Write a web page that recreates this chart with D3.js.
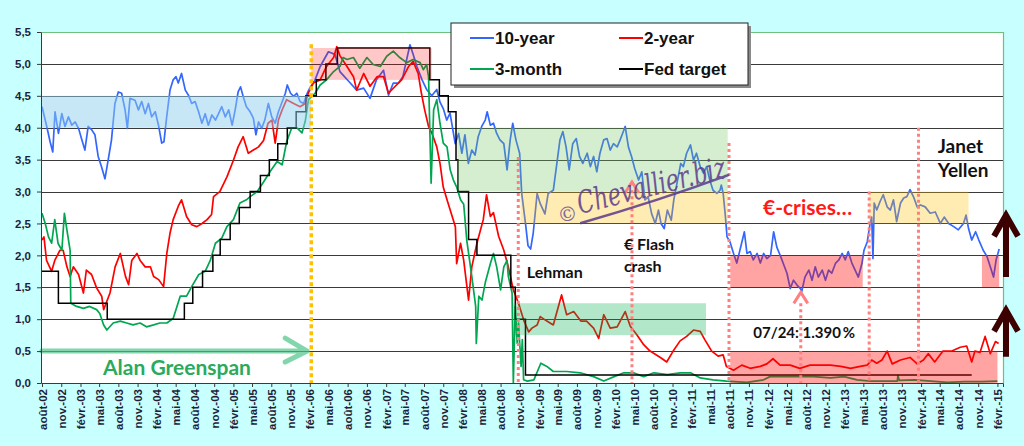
<!DOCTYPE html>
<html>
<head>
<meta charset="utf-8">
<script src="https://cdn.jsdelivr.net/npm/d3@7"></script>
<style>
  html, body { margin: 0; padding: 0; background: #c8ffff; }
  svg { display: block; }
  .axis text { font-family: 'Liberation Sans', Arial, sans-serif; font-weight: bold; font-size: 11.5px; fill: #1f1f3a; }
  .axis path, .axis line { stroke: #3a3a3a; }
  .note { font-family: Lato, 'Open Sans', sans-serif; font-weight: bold; }
</style>
</head>
<body>
<script>
// values: [months after août-02, yield %]
const tenYear = [[0,4.33],[0.73,4.02],[1.26,3.78],[1.68,3.62],[2.04,4.25],[2.57,3.91],[3.09,4.22],[3.6,4.02],[4.14,4.17],[4.66,4.04],[5.18,4.09],[5.7,3.99],[6.23,3.81],[6.75,3.65],[7.28,4.02],[7.8,3.97],[8.33,3.89],[8.85,3.55],[9.37,3.39],[9.9,3.2],[10.4,3.49],[10.94,3.81],[11.47,4.38],[11.99,4.56],[12.5,4.54],[13.04,4.28],[13.4,3.99],[13.82,4.46],[14.6,4.43],[15.13,4.28],[15.65,4.41],[16.2,4.22],[16.7,4.38],[17.2,4.17],[17.75,4.25],[18.27,4.04],[18.8,3.76],[19.16,3.78],[19.58,4.17],[20.1,4.59],[20.6,4.75],[21.05,4.8],[21.4,4.7],[21.9,4.85],[22.5,4.59],[23,4.51],[23.5,4.38],[24.03,4.41],[24.56,4.25],[25.08,4.07],[25.6,4.22],[26.1,4.04],[26.65,4.2],[27.2,4.12],[27.7,4.22],[28.2,4.33],[28.75,4.17],[29.27,4.28],[29.8,4.04],[30.3,4.28],[30.8,4.56],[31.2,4.64],[31.6,4.49],[32.1,4.33],[32.7,4.25],[33.2,4.15],[33.6,3.89],[34,4.09],[34.5,3.99],[35,4.12],[35.55,4.38],[36.07,4.17],[36.6,4.07],[37.1,4.25],[37.6,4.38],[38.2,4.54],[38.5,4.67],[39,4.54],[39.5,4.49],[40,4.54],[40.5,4.41],[41.05,4.38],[41.6,4.54],[42.1,4.64],[42.9,4.75],[43.7,4.96],[45,5.19],[46,5.15],[46.8,4.88],[48.4,4.7],[49.4,4.59],[50.5,4.62],[51.5,4.46],[52.5,4.75],[53.6,4.9],[54.4,4.51],[55.2,4.7],[56,4.7],[56.7,4.8],[57.8,5.3],[58.3,5.15],[58.9,4.96],[59.7,4.75],[60.4,4.6],[61.2,4.5],[62,4.6],[62.5,4.4],[63,4.3],[63.55,4.12],[64.08,4.23],[64.87,3.75],[65.4,3.91],[65.9,3.6],[66.4,3.89],[66.96,3.44],[67.5,3.65],[68,3.57],[68.5,3.86],[69.06,4.02],[69.6,4.12],[69.9,4.25],[70.4,4.04],[70.9,4.07],[71.4,3.91],[71.9,3.81],[72.5,3.75],[73,3.34],[73.5,3.81],[73.9,4.07],[74.4,3.81],[74.97,3.6],[75.3,2.97],[75.9,2.5],[76.3,2.15],[76.7,2.1],[77.1,2.35],[77.7,2.97],[78.2,2.81],[79,2.65],[79.5,2.97],[80.3,3.02],[80.8,3.39],[81.35,3.81],[81.8,3.94],[82.3,3.7],[82.8,3.34],[83.35,3.75],[83.9,3.83],[84.4,3.55],[84.9,3.44],[85.6,3.6],[86.1,3.39],[86.6,3.55],[87.1,3.31],[87.6,3.6],[88.2,3.81],[88.7,3.83],[89.2,3.65],[89.7,3.75],[90.3,3.7],[90.8,3.81],[91.2,3.91],[91.6,4.02],[92.1,3.7],[92.6,3.55],[93.1,3.36],[93.7,3.18],[94.2,3.31],[94.7,2.87],[95.2,2.92],[95.75,2.65],[96.3,2.5],[96.8,2.71],[97.2,2.5],[97.7,2.42],[98.2,2.71],[98.8,2.55],[99.2,2.87],[99.8,3.18],[100.3,3.44],[100.7,3.39],[101.2,3.6],[101.8,3.73],[102.3,3.49],[102.8,3.6],[103.4,3.39],[103.9,3.29],[104.4,3.39],[104.9,3.18],[105.4,3.02],[106,2.97],[106.5,3.02],[106.7,3.1],[107,2.97],[107.3,2.66],[107.6,2.29],[108.06,2.21],[108.6,2.03],[109.1,1.88],[109.6,2.08],[110.3,2.37],[110.7,2.03],[111.2,2.06],[111.7,1.93],[112.3,2.03],[112.8,1.88],[113.3,2.03],[113.8,1.95],[114.4,2.0],[114.9,2.37],[115.4,2.13],[116,1.98],[116.5,1.85],[117,1.72],[117.5,1.48],[118,1.61],[118.6,1.53],[119.1,1.48],[119.3,1.43],[119.8,1.66],[120.4,1.77],[120.9,1.61],[121.4,1.82],[121.9,1.66],[122.5,1.77],[123,1.61],[123.5,1.77],[124,1.72],[124.6,1.88],[125.1,1.93],[125.6,2.03],[126.1,1.93],[126.6,2.06],[127.2,1.88],[127.7,1.77],[128.2,1.66],[128.8,1.88],[129.1,2.08],[129.6,2.21],[130.05,2.5],[130.3,2.6],[130.5,1.95],[130.7,2.82],[131.1,2.71],[131.6,2.84],[132.1,2.95],[132.7,2.76],[133.2,2.71],[133.7,2.87],[134.2,2.53],[134.8,2.82],[135.3,2.9],[135.8,2.92],[136.3,3.03],[136.9,2.9],[137.4,2.76],[137.9,2.79],[138.7,2.76],[139.5,2.66],[140.3,2.68],[141.1,2.5],[141.7,2.6],[142.4,2.5],[143.2,2.45],[143.9,2.4],[144.7,2.5],[145.1,2.63],[145.5,2.42],[146,2.24],[146.6,2.37],[147.1,2.24],[147.8,2.08],[148.4,1.98],[148.9,1.82],[149.4,1.66],[149.8,1.93],[150.3,2.1]];

const twoYear = [[0,2.24],[0.3,2.29],[0.7,1.92],[1.5,1.75],[2,1.92],[2.8,2.08],[3.3,2.08],[3.9,1.82],[4.4,1.67],[4.9,1.82],[5.7,1.7],[6.5,1.41],[7,1.77],[7.8,1.7],[8.6,1.49],[9.4,1.36],[9.7,1.15],[10.7,1.41],[11.5,1.82],[12.3,2.03],[13.1,1.67],[13.6,1.54],[14.1,1.92],[14.9,2.03],[15.4,1.92],[16.2,1.82],[17,1.82],[17.5,1.67],[18.3,1.62],[19.1,1.51],[19.6,2.03],[20.1,2.35],[20.6,2.56],[21.4,2.77],[21.9,2.87],[22.7,2.61],[23.5,2.48],[24.3,2.45],[25.1,2.5],[25.9,2.56],[26.6,2.64],[26.9,2.92],[27.9,3.0],[29,3.23],[30,3.49],[30.8,3.7],[31.6,3.86],[32.4,3.6],[33.2,3.65],[34,3.7],[34.8,3.8],[35.5,4.07],[36.1,4.12],[36.6,3.76],[37.1,4.12],[37.7,4.28],[38.4,4.44],[39.5,4.38],[40.5,4.33],[41.3,4.38],[41.8,4.55],[42.6,4.7],[43.7,4.75],[44.7,4.96],[45.8,5.1],[46.3,5.27],[46.8,5.13],[47.9,4.96],[48.9,4.8],[49.4,4.59],[50.5,4.85],[51.5,4.65],[52.6,4.8],[53.6,4.8],[54.4,4.54],[55.5,4.65],[56.5,4.75],[57.6,4.96],[58.3,5.04],[59.1,4.85],[59.6,4.54],[60.1,4.28],[60.7,4.02],[61.2,3.92],[62,3.7],[62.5,3.44],[63,3.07],[63.6,2.87],[64.9,2.45],[65.1,1.87],[65.7,2.19],[66.2,1.92],[67,1.3],[67.5,1.82],[68.3,2.19],[69.3,2.56],[69.8,2.95],[70.4,2.61],[70.9,2.67],[71.7,2.3],[72.5,2.08],[73.2,1.82],[74,1.46],[74.8,1.25],[75.6,0.99],[76.4,0.8],[76.9,0.86],[77.7,0.91],[78.2,1.04],[79.3,0.97],[80.3,0.91],[81.6,1.38],[82.4,1.07],[83.5,1.12],[84.6,0.97],[85.5,0.97],[86.6,0.86],[87.4,0.7],[88.2,1.07],[89.2,0.86],[90.3,0.88],[91.6,1.12],[92.4,0.89],[93.4,0.76],[94.5,0.6],[95.5,0.5],[97.1,0.4],[98.1,0.33],[99.1,0.5],[100.2,0.66],[101.2,0.73],[102.3,0.83],[103.4,0.81],[104.1,0.68],[105.2,0.5],[106.2,0.42],[107,0.44],[107.5,0.26],[108.6,0.2],[109.9,0.28],[111.2,0.23],[112.8,0.26],[113.8,0.3],[114.8,0.38],[115.9,0.28],[117.5,0.28],[119,0.23],[120.6,0.28],[122.2,0.28],[123.8,0.28],[125.4,0.26],[127,0.23],[128.5,0.26],[129.6,0.28],[130.3,0.36],[131.1,0.31],[131.9,0.36],[132.7,0.5],[133.5,0.3],[134.8,0.36],[136.3,0.4],[137.4,0.3],[138.4,0.36],[139.2,0.46],[140.2,0.33],[141.5,0.5],[142.9,0.5],[144.2,0.56],[145.2,0.58],[146,0.33],[146.5,0.5],[147.3,0.48],[148.1,0.73],[148.9,0.46],[149.7,0.65],[150.2,0.62]];

const threeMonth = [[0,2.66],[0.5,2.5],[1,2.29],[1.5,2.19],[2,2.56],[2.5,2.19],[3.1,2.08],[3.5,2.66],[3.9,2.4],[4.4,2.08],[4.5,1.25],[5.4,1.2],[6.5,1.17],[7.5,1.2],[8.6,1.15],[9.1,1.09],[9.7,0.91],[10.2,0.83],[11.2,0.94],[12.3,0.97],[13.3,0.94],[14.3,0.91],[15.4,0.94],[16.4,0.88],[17.5,0.91],[18.5,0.94],[19.6,0.94],[20.6,1.01],[21.7,1.36],[22.7,1.36],[23.5,1.51],[24.6,1.7],[25.6,1.75],[26.4,1.92],[27.2,2.19],[28.2,2.27],[29,2.45],[30,2.56],[31.1,2.82],[32.1,2.87],[32.7,2.92],[33.8,3.0],[34.8,3.15],[35.8,3.31],[36.9,3.47],[37.7,3.42],[38.4,3.78],[39.2,4.0],[40,4.0],[40.8,3.92],[41.3,4.1],[41.8,4.44],[42.9,4.54],[43.7,4.67],[44.7,4.75],[45.8,4.88],[46.8,4.96],[47.3,5.1],[47.9,5.07],[48.9,5.1],[49.9,4.93],[51,5.1],[52,4.99],[53.1,4.96],[54.1,5.12],[55.2,5.2],[56.2,5.1],[57.3,5.02],[58.3,5.07],[59.4,5.02],[59.9,4.91],[60.4,4.99],[60.7,4.8],[61.1,3.13],[61.5,4.28],[62,4.44],[62.5,4.07],[63,3.76],[63.6,3.7],[64.1,3.34],[64.6,3.18],[65.1,3.07],[65.7,2.87],[66.2,2.8],[66.7,2.24],[67.5,1.67],[68.1,1.2],[68.2,0.62],[68.6,1.36],[69.1,1.3],[69.6,1.57],[70.4,1.87],[70.9,2.03],[71.4,1.82],[72,1.46],[72.5,1.82],[73,1.92],[73.2,1.67],[73.8,1.41],[74,0.0],[74.3,1.2],[74.6,0.62],[74.8,0.94],[75.2,0.26],[75.4,0.68],[75.6,0.05],[76.2,0.03],[77.2,0.05],[78.3,0.31],[79.3,0.26],[80.3,0.18],[82.4,0.18],[84.5,0.16],[86.6,0.1],[88.2,0.03],[89.8,0.1],[91.4,0.16],[92.9,0.16],[94.5,0.1],[96.1,0.16],[98.2,0.13],[100.2,0.16],[101.8,0.16],[103.4,0.08],[105.4,0.05],[107.5,0.03],[110.7,0.01],[113.3,0.05],[114.3,0.1],[116.4,0.1],[118.5,0.1],[121.1,0.1],[123.8,0.08],[125.9,0.1],[128,0.05],[130.1,0.03],[132.3,0.03],[134.3,0.03],[134.4,0.12],[134.6,0.04],[137,0.05],[139.6,0.03],[142.2,0.01],[144.9,0.02],[147.6,0.02],[150,0.03]];

// Fed target: [month the level starts, level]
const fedTarget = [[0,1.75],[2.56,1.25],[10.26,1.0],[22.35,1.25],[23.67,1.5],[25.18,1.75],[26.8,2.0],[27.96,2.25],[29.5,2.5],[31,2.75],[32.7,3.0],[34.3,3.25],[35.7,3.5],[37,3.75],[38.5,4.0],[39.9,4.25],[41.4,4.5],[43.1,4.75],[44.6,5.0],[46.4,5.25],[60.9,4.75],[62.4,4.5],[63.8,4.25],[65.0,3.5],[65.3,3.0],[67,2.25],[68.3,2.0],[73.6,1.5],[74.3,1.0],[75.9,0.125],[146,0.125]];

const seriesNames = ['10-year', '2-year', '3-month', 'Fed target'];
const seriesColors = ['#3366ff', '#ff0000', '#00a650', '#000000'];

// shaded zones: [from month, to month, low, high]
const zoneBlue = [[0, 42.25, 4.0, 4.5]];
const zonePink = [[42.25, 61.2, 4.75, 5.25]];
const zoneLightGreen = [[65.2, 107.7, 3.0, 4.0]];
const zoneOrange = [[75.1, 107.7, 2.5, 3.0], [129.9, 145.5, 2.5, 3.0]];
const zoneGreen = [[74.0, 104.3, 0.75, 1.25]];
const zoneRed = [[108.1, 128.9, 1.5, 2.0], [147.6, 150.3, 1.5, 2.0], [108.1, 150.0, 0, 0.5]];

// event markers: [month, top value]
const greenspanEnd = [[42.25, 5.31]];
const eventLines = [[74.76, 3.54], [92.67, 3.02], [107.9, 3.76], [119.16, 1.25], [129.9, 3.0], [137.6, 4.0]];

const yTicks = d3.range(0, 5.51, 0.5);

const width = 1024, height = 446;
const plotLeft = 42, plotRight = 1003, plotTop = 32, plotBottom = 383;

const svg = d3.select('body').append('svg')
    .attr('width', width)
    .attr('height', height);

const monthToDate = m => {
    const whole = Math.floor(m);
    const start = new Date(2002, 7 + whole, 1);
    const days = new Date(2002, 8 + whole, 0).getDate();
    return new Date(start.getTime() + (m - whole) * days * 864e5);
};

const fr = d3.timeFormatLocale({
    dateTime: '%A %e %B %Y à %X', date: '%d/%m/%Y', time: '%H:%M:%S', periods: ['AM', 'PM'],
    days: ['dimanche','lundi','mardi','mercredi','jeudi','vendredi','samedi'],
    shortDays: ['dim.','lun.','mar.','mer.','jeu.','ven.','sam.'],
    months: ['janvier','février','mars','avril','mai','juin','juillet','août','septembre','octobre','novembre','décembre'],
    shortMonths: ['janv.','févr.','mars','avr.','mai','juin','juil.','août','sept.','oct.','nov.','déc.']
});

const x = d3.scaleTime()
    .domain([monthToDate(0), monthToDate(150.95)])
    .range([plotLeft, plotRight]);
const y = d3.scaleLinear()
    .domain([0, 5.5])
    .range([plotBottom, plotTop]);
const xm = m => x(monthToDate(m));

// plot area
svg.append('rect')
    .attr('x', plotLeft - 1).attr('y', plotTop)
    .attr('width', plotRight - plotLeft + 1).attr('height', plotBottom - plotTop)
    .style('fill', 'white');

svg.append('g')
    .selectAll('line')
    .data(yTicks.slice(1, -1))
    .join('line')
    .attr('x1', plotLeft).attr('x2', plotRight)
    .attr('y1', d => Math.round(y(d)) + 0.5).attr('y2', d => Math.round(y(d)) + 0.5)
    .style('stroke', '#3a3a3a').style('stroke-width', 1);

// green frame on top and right
svg.append('path')
    .attr('d', `M${plotLeft},${y(5.5) + 0.5}H${plotRight + 0.5}V${plotBottom}`)
    .style('fill', 'none').style('stroke', '#6fbf7f').style('stroke-width', 1.2);

// series
const line = d3.line().x(d => xm(d[0])).y(d => y(d[1]));
const stepLine = d3.line().x(d => xm(d[0])).y(d => y(d[1])).curve(d3.curveStepAfter);
[tenYear, twoYear, threeMonth].forEach((s, i) => {
    svg.append('path')
        .datum(s)
        .attr('d', line)
        .style('fill', 'none')
        .style('stroke', seriesColors[i])
        .style('stroke-width', 1.7)
        .style('stroke-linejoin', 'round');
});
svg.append('path')
    .datum(fedTarget)
    .attr('d', stepLine)
    .style('fill', 'none')
    .style('stroke', seriesColors[3])
    .style('stroke-width', 1.5);

// shaded zones over the lines
function drawZones(zones, color, opacity) {
    svg.append('g')
        .selectAll('rect')
        .data(zones)
        .join('rect')
        .attr('x', d => xm(d[0]))
        .attr('width', d => xm(d[1]) - xm(d[0]))
        .attr('y', d => y(d[3]))
        .attr('height', d => y(d[2]) - y(d[3]))
        .style('fill', color)
        .style('fill-opacity', opacity);
}
drawZones(zoneBlue, '#8fd0ef', 0.5);
drawZones(zonePink, '#ff0000', 0.22);
drawZones(zoneLightGreen, '#78c864', 0.3);
drawZones(zoneOrange, '#ffc000', 0.3);
drawZones(zoneGreen, '#00b050', 0.3);
drawZones(zoneRed, '#ff0000', 0.36);

// dotted event lines
svg.append('g')
    .selectAll('line')
    .data(greenspanEnd)
    .join('line')
    .attr('x1', d => xm(d[0])).attr('x2', d => xm(d[0]))
    .attr('y1', d => y(d[1])).attr('y2', plotBottom)
    .style('stroke', '#ffc000').style('stroke-width', 3.5)
    .style('stroke-dasharray', '4,3');
svg.append('g')
    .selectAll('line')
    .data(eventLines)
    .join('line')
    .attr('x1', d => xm(d[0])).attr('x2', d => xm(d[0]))
    .attr('y1', d => y(d[1])).attr('y2', plotBottom)
    .style('stroke', '#ff7f7f').style('stroke-width', 3)
    .style('stroke-dasharray', '3,3');

// carets pointing at the flash crash and the 07/24 low
const carets = [[92.67, 3.15], [119.16, 1.42]];
svg.append('g')
    .selectAll('path')
    .data(carets)
    .join('path')
    .attr('d', d => `M${xm(d[0]) - 7},${y(d[1]) + 11}L${xm(d[0])},${y(d[1])}L${xm(d[0]) + 7},${y(d[1]) + 11}`)
    .style('fill', 'none').style('stroke', '#ff8080').style('stroke-width', 3);

// Greenspan arrow
const gy = y(0.5);
const gx2 = xm(41.6);
svg.append('path')
    .attr('d', `M${plotLeft},${gy}H${gx2}M${gx2 - 22},${gy - 13}L${gx2},${gy}L${gx2 - 22},${gy + 11}`)
    .style('fill', 'none').style('stroke', '#4fc489').style('stroke-opacity', 0.7)
    .style('stroke-width', 5).style('stroke-linecap', 'round').style('stroke-linejoin', 'round');

// annotations
const notes = [
    { text: 'Alan Greenspan', m: 9.6, v: 0.12, size: 21, color: '#2aaa5c' },
    { text: 'Lehman', m: 76.1, v: 1.64, size: 16, color: '#111' },
    { text: '€ Flash', m: 91.4, v: 2.08, size: 16, color: '#111' },
    { text: 'crash', m: 91.4, v: 1.74, size: 16, color: '#111' },
    { text: '€-crises…', m: 113.2, v: 2.63, size: 21, color: '#ff1a1a' },
    { text: 'Janet', m: 140.7, v: 3.61, size: 19, color: '#111' },
    { text: 'Yellen', m: 140.7, v: 3.23, size: 19, color: '#111' },
    { text: '07/24: 1.390\u2009%', m: 111.7, v: 0.7, size: 15, color: '#111' }
];
svg.append('g')
    .selectAll('text')
    .data(notes)
    .join('text')
    .attr('class', 'note')
    .attr('x', d => xm(d.m))
    .attr('y', d => y(d.v))
    .style('font-size', d => d.size + 'px')
    .style('fill', d => d.color)
    .text(d => d.text);

// watermark
const wm = svg.append('g')
    .attr('transform', `translate(580,214) rotate(-14)`)
    .style('opacity', 0.85);
wm.append('text')
    .attr('x', -22).attr('y', 4)
    .style('font-family', 'DejaVu Serif, serif').style('font-size', '20px')
    .style('fill', '#6b4f96')
    .text('©');
wm.append('text')
    .attr('x', 0).attr('y', 0)
    .attr('textLength', 152).attr('lengthAdjust', 'spacingAndGlyphs')
    .style('font-family', 'DejaVu Serif, serif').style('font-style', 'italic')
    .style('font-size', '31px')
    .style('fill', '#5b3a8c')
    .text('Chevallier.biz');
wm.append('path')
    .attr('d', 'M-2,9 Q80,6 154,-2')
    .style('fill', 'none').style('stroke', '#5b3a8c').style('stroke-width', 2.5);

// up arrows on the right
const upArrows = [[1.66, 2.66], [0.41, 1.17]];
svg.append('g')
    .selectAll('path')
    .data(upArrows)
    .join('path')
    .attr('d', d => {
        const ax = plotRight + 3, y1 = y(d[0]), y2 = y(d[1]);
        return `M${ax},${y1}V${y2 + 3}M${ax - 12},${y2 + 23}L${ax},${y2 + 2}L${ax + 12},${y2 + 23}`;
    })
    .style('fill', 'none').style('stroke', '#3c0000').style('stroke-width', 6)
    .style('stroke-linejoin', 'miter');

// axes
svg.append('g')
    .attr('class', 'axis')
    .attr('transform', `translate(${plotLeft - 1},0)`)
    .call(d3.axisLeft(y).tickValues(yTicks).tickSize(4).tickPadding(6)
        .tickFormat(d => d3.format('.1f')(d).replace('.', ',')));

const xTicks = d3.timeMonth.range(monthToDate(0), monthToDate(151), 3);
svg.append('g')
    .attr('class', 'axis')
    .attr('transform', `translate(0,${plotBottom})`)
    .call(d3.axisBottom(x).tickValues(xTicks).tickSize(4).tickFormat(fr.format('%b-%y')))
    .selectAll('text')
    .attr('transform', 'rotate(-90)')
    .attr('text-anchor', 'end')
    .attr('dx', '-6px')
    .attr('dy', '0.35em')
    .attr('x', 0)
    .attr('y', 0);

// legend
const legend = svg.append('g').attr('transform', 'translate(451,23)');
legend.append('rect')
    .attr('x', 3).attr('y', 3).attr('width', 297).attr('height', 62)
    .style('fill', '#8a8a8a');
legend.append('rect')
    .attr('width', 297).attr('height', 62)
    .style('fill', 'white').style('stroke', '#222').style('stroke-width', 1);
const legendItems = legend.selectAll('g')
    .data(seriesNames)
    .join('g')
    .attr('transform', (d, i) => `translate(${19 + (i % 2) * 149},${15 + Math.floor(i / 2) * 31})`);
legendItems.append('line')
    .attr('x1', 0).attr('x2', 24)
    .style('stroke', (d, i) => seriesColors[i]).style('stroke-width', 2);
legendItems.append('text')
    .attr('x', 25).attr('y', 6)
    .style('font-family', "'Liberation Sans', Arial, sans-serif")
    .style('font-weight', 'bold').style('font-size', '17px')
    .style('fill', '#111')
    .text(d => d);
</script>
</body>
</html>
